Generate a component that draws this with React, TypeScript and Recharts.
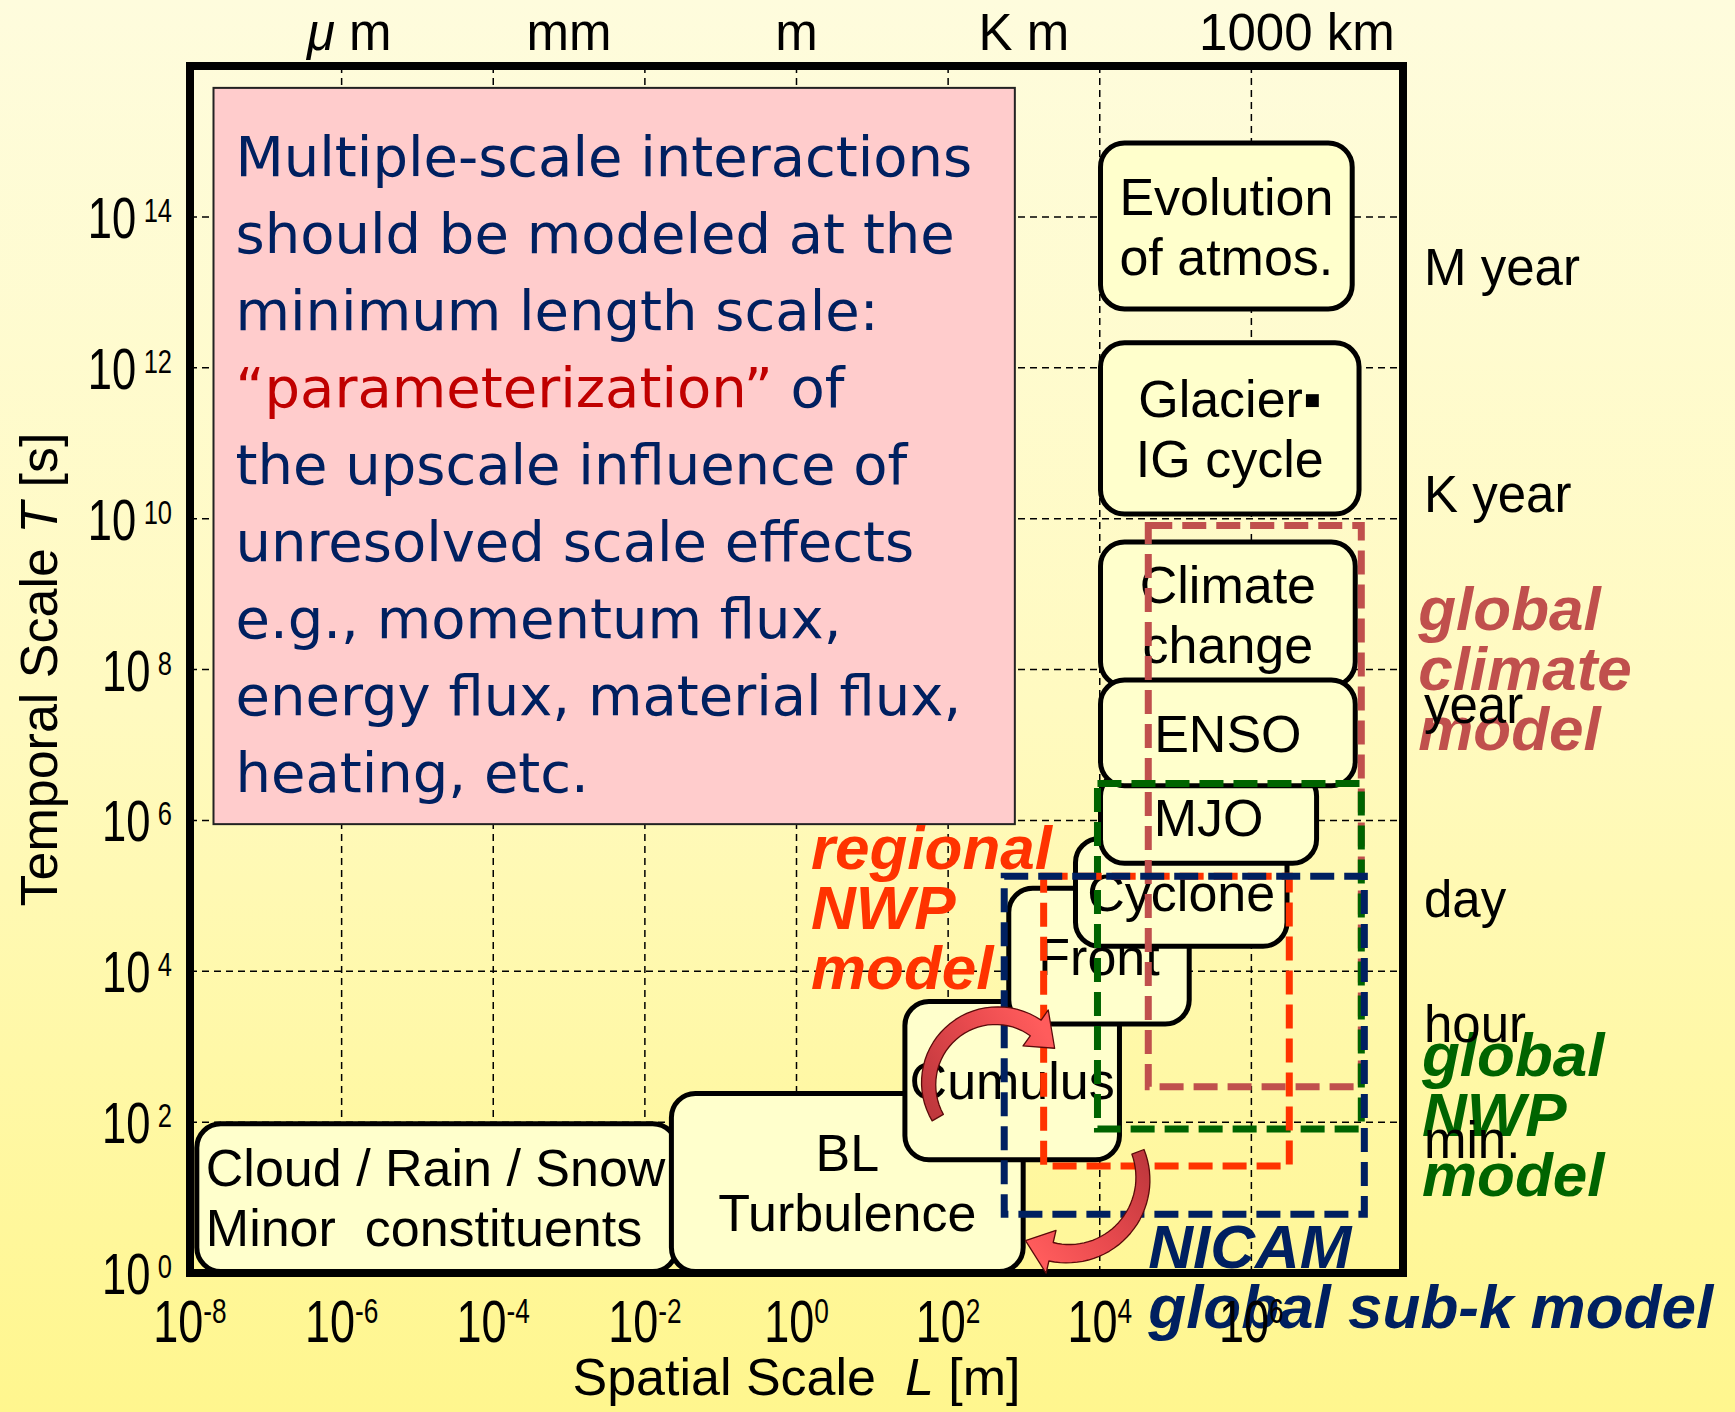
import React from "react";
import {
  ComposedChart,
  XAxis,
  YAxis,
  CartesianGrid,
  ReferenceArea,
  ReferenceDot,
  Scatter,
} from "recharts";

const W = 1735;
const H = 1412;
const FONT = "'Liberation Sans', Arial, sans-serif";
const NOTE_FONT = "'DejaVu Sans', Verdana, sans-serif";

// axes are log10 L [m] and log10 T [s]
const L_TICKS = [-8, -6, -4, -2, 0, 2, 4, 6];
const T_TICKS = [0, 2, 4, 6, 8, 10, 12, 14];
const LENGTH_NAMES = ["μ m", "mm", "m", "K m", "1000 km"];
const LENGTH_AT = [-5.9, -3, 0, 3, 6.6];
const TIME_NAMES = ["M year", "K year", "year", "day", "hour", "min."];
const TIME_AT = [13.33, 10.32, 7.53, 4.96, 3.3, 1.76];

// phenomena, back to front
const PHEN_LINES = [
  ["Cloud / Rain / Snow", "Minor  constituents"],
  ["BL", "Turbulence"],
  ["Cumulus"],
  ["Front"],
  ["Cyclone"],
  ["MJO"],
  ["Climate", "change"],
  ["ENSO"],
  ["Glacier▪", "IG cycle"],
  ["Evolution", "of atmos."],
];
const PHEN_L = [
  [-7.91, -1.58],
  [-1.65, 2.99],
  [1.43, 4.26],
  [2.8, 5.18],
  [3.68, 6.47],
  [4.01, 6.86],
  [4.01, 7.37],
  [4.01, 7.37],
  [4.01, 7.42],
  [4.01, 7.33],
];
const PHEN_T = [
  [0.02, 1.98],
  [0.02, 2.38],
  [1.5, 3.6],
  [3.3, 5.1],
  [4.33, 5.76],
  [5.43, 6.64],
  [7.78, 9.69],
  [6.46, 7.86],
  [10.06, 12.33],
  [12.78, 14.98],
];

// model coverage (dashed frames)
const MODEL_L = [
  [4.64, 7.45],
  [3.97, 7.45],
  [3.26, 6.5],
  [2.74, 7.49],
];
const MODEL_T = [
  [2.47, 9.91],
  [1.91, 6.49],
  [1.42, 5.26],
  [0.78, 5.26],
];
const MODEL_LABELS = [
  ["global", "climate", "model"],
  ["global", "NWP", "model"],
  ["regional", "NWP", "model"],
  ["NICAM", "global sub-k model"],
];
const MODEL_LABEL_AT = [
  [8.2, 8.52],
  [8.25, 2.61],
  [0.19, 5.36],
  [4.64, 0.07],
];
const MODEL_COLORS = ["#C0504D", "#006400", "#FF3300", "#002060"];

// note box
const NOTE_L = [-7.69, 2.88];
const NOTE_T = [5.95, 15.71];
const NOTE_TERM = "“parameterization”";
const NOTE_LINES = [
  "Multiple-scale interactions",
  "should be modeled at the",
  "minimum length scale:",
  "“parameterization” of",
  "the upscale influence of",
  "unresolved scale effects",
  "e.g., momentum flux,",
  "energy flux, material flux,",
  "heating, etc.",
];

// interaction arrows: arc centre (log L, log T), sweep in degrees
const ARROW_AT = [
  [2.64, 2.51],
  [3.58, 1.25],
];
const ARROW_SWEEP = [
  [150, 305],
  [-21, 103],
];
const ARROW_R = [68, 75];

const BOX_FONT = 52;
const BOX_LINE = 60;

function XTick(p: any) {
  return (
    <text
      transform={`translate(${p.x},${p.y}) scale(0.75,1)`}
      textAnchor="middle"
      fontSize={60}
      fontFamily={FONT}
      fill="#000"
    >
      10
      <tspan dy={-19} fontSize={35}>
        {String(p.payload.value)}
      </tspan>
    </text>
  );
}

function YTick(p: any) {
  return (
    <text
      transform={`translate(${p.x},${p.y + 21}) scale(0.75,1)`}
      textAnchor="end"
      fontSize={58}
      fontFamily={FONT}
      fill="#000"
    >
      10
      <tspan dx={10} dy={-16} fontSize={34}>
        {String(p.payload.value)}
      </tspan>
    </text>
  );
}

function TopTick(p: any) {
  const name = LENGTH_NAMES[LENGTH_AT.indexOf(p.payload.value)] ?? "";
  const mu = name.startsWith("μ");
  return (
    <text x={p.x} y={p.y} textAnchor="middle" fontSize={51} fontFamily={FONT} fill="#000" style={{ whiteSpace: "pre" }}>
      {mu ? (
        <>
          <tspan fontStyle="italic">μ</tspan>
          {name.slice(1)}
        </>
      ) : (
        name
      )}
    </text>
  );
}

function RightTick(p: any) {
  const name = TIME_NAMES[TIME_AT.indexOf(p.payload.value)] ?? "";
  return (
    <text x={p.x} y={p.y + 18} textAnchor="start" fontSize={51} fontFamily={FONT} fill="#000">
      {name}
    </text>
  );
}

function XTitle(p: any) {
  const vb = p.viewBox ?? { x: 190, y: 1273, width: 1213, height: 139 };
  return (
    <text
      x={vb.x + vb.width / 2}
      y={vb.y + 122}
      textAnchor="middle"
      fontSize={52}
      fontFamily={FONT}
      fill="#000"
      style={{ whiteSpace: "pre" }}
    >
      {"Spatial Scale  "}
      <tspan fontStyle="italic">L</tspan>
      {" [m]"}
    </text>
  );
}

function YTitle(p: any) {
  const vb = p.viewBox ?? { x: 0, y: 66, width: 190, height: 1207 };
  const cy = vb.y + vb.height / 2;
  return (
    <text
      transform={`translate(57,${cy}) rotate(-90)`}
      textAnchor="middle"
      fontSize={52}
      fontFamily={FONT}
      fill="#000"
    >
      {"Temporal Scale "}
      <tspan fontStyle="italic">T</tspan>
      {" [s]"}
    </text>
  );
}

function PhenShape(p: any) {
  const { x, y, width, height, lines, left } = p;
  const tx = left ? x + 9 : x + width / 2;
  const first = y + height / 2 - ((lines.length - 1) * BOX_LINE) / 2 + BOX_FONT * 0.36;
  return (
    <g>
      <rect x={x} y={y} width={width} height={height} rx={24} ry={24} fill="#FFFFCC" stroke="#000" strokeWidth={5} />
      <text
        textAnchor={left ? "start" : "middle"}
        fontSize={BOX_FONT}
        fontFamily={FONT}
        fill="#000"
        style={{ whiteSpace: "pre" }}
      >
        {lines.map((s: string, i: number) => (
          <tspan key={i} x={tx} y={first + i * BOX_LINE}>
            {s}
          </tspan>
        ))}
      </text>
    </g>
  );
}

function NoteShape(p: any) {
  const { x, y, width, height } = p;
  return (
    <g>
      <rect x={x} y={y} width={width} height={height} fill="#FFCCCC" stroke="#222" strokeWidth={2} />
      <text fontFamily={NOTE_FONT} fontSize={56} fill="#002060">
        {NOTE_LINES.map((s, i) => {
          const yy = y + 88 + i * 77;
          if (s.startsWith(NOTE_TERM)) {
            return (
              <tspan key={i} x={x + 22} y={yy}>
                <tspan fill="#C00000">{NOTE_TERM}</tspan>
                {s.slice(NOTE_TERM.length)}
              </tspan>
            );
          }
          return (
            <tspan key={i} x={x + 22} y={yy}>
              {s}
            </tspan>
          );
        })}
      </text>
    </g>
  );
}

function ModelLabel(p: any) {
  const { cx, cy, lines, color } = p;
  return (
    <text
      fontSize={62}
      fontWeight="bold"
      fontStyle="italic"
      fontFamily={FONT}
      fill={color}
    >
      {lines.map((s: string, i: number) => (
        <tspan key={i} x={cx} y={cy + i * 60}>
          {s}
        </tspan>
      ))}
    </text>
  );
}

function ArrowShape(p: any) {
  const { cx, cy, r, sweep, id } = p;
  const [a0, a1] = sweep;
  const rad = (d: number) => (d * Math.PI) / 180;
  const pt = (rr: number, a: number) => [rr * Math.cos(rad(a)), rr * Math.sin(rad(a))];
  const n = 32;
  const outer: number[][] = [];
  const inner: number[][] = [];
  for (let i = 0; i <= n; i++) {
    const t = i / n;
    const a = a0 + (a1 - a0) * t;
    const w = 13 + 6 * t;
    outer.push(pt(r + w / 2, a));
    inner.push(pt(r - w / 2, a));
  }
  const tipA = a1 + (28 / r) * (180 / Math.PI);
  const hw = 22;
  const ho = pt(r + hw, a1);
  const hi = pt(r - hw, a1);
  const tip = pt(r, tipA);
  const tail = pt(r, a0);
  const f = (q: number[]) => `${q[0].toFixed(1)},${q[1].toFixed(1)}`;
  const d =
    "M" +
    outer.map(f).join(" L") +
    ` L${f(ho)} L${f(tip)} L${f(hi)} L` +
    inner.slice().reverse().map(f).join(" L") +
    " Z";
  return (
    <g transform={`translate(${cx},${cy})`}>
      <defs>
        <linearGradient id={id} gradientUnits="userSpaceOnUse" x1={tail[0]} y1={tail[1]} x2={tip[0]} y2={tip[1]}>
          <stop offset="0%" stopColor="#C0383D" />
          <stop offset="55%" stopColor="#E84A4E" />
          <stop offset="100%" stopColor="#FF5C5C" />
        </linearGradient>
      </defs>
      <path d={d} fill={`url(#${id})`} stroke="#5A0A0A" strokeWidth={1.3} strokeLinejoin="round" />
    </g>
  );
}

export default function App() {
  const centers = PHEN_L.map((l, i) => ({
    x: (l[0] + l[1]) / 2,
    y: (PHEN_T[i][0] + PHEN_T[i][1]) / 2,
  }));

  return (
    <div
      style={{
        position: "absolute",
        left: 0,
        top: 0,
        width: W,
        height: H,
        background: "linear-gradient(180deg, #FEFCDD 0%, #FFFAC0 50%, #FFF68E 100%)",
        fontFamily: FONT,
      }}
    >
      <ComposedChart width={W} height={H} data={centers} margin={{ top: 0, right: 0, bottom: 0, left: 0 }}>
        <XAxis
          type="number"
          dataKey="x"
          domain={[-8, 8]}
          ticks={L_TICKS}
          interval={0}
          height={139}
          axisLine={false}
          tickLine={false}
          tickSize={0}
          tickMargin={69}
          tick={(p: any) => <XTick {...p} />}
          label={{ content: (p: any) => <XTitle {...p} /> }}
        />
        <XAxis
          xAxisId="top"
          orientation="top"
          type="number"
          dataKey="x"
          domain={[-8, 8]}
          ticks={LENGTH_AT}
          interval={0}
          height={66}
          axisLine={false}
          tickLine={false}
          tickSize={0}
          tickMargin={16}
          tick={(p: any) => <TopTick {...p} />}
        />
        <YAxis
          type="number"
          dataKey="y"
          domain={[0, 16]}
          ticks={T_TICKS}
          interval={0}
          width={190}
          axisLine={false}
          tickLine={false}
          tickSize={0}
          tickMargin={18}
          tick={(p: any) => <YTick {...p} />}
          label={{ content: (p: any) => <YTitle {...p} /> }}
        />
        <YAxis
          yAxisId="right"
          orientation="right"
          type="number"
          dataKey="y"
          domain={[0, 16]}
          ticks={TIME_AT}
          interval={0}
          width={332}
          axisLine={false}
          tickLine={false}
          tickSize={0}
          tickMargin={21}
          tick={(p: any) => <RightTick {...p} />}
        />
        <CartesianGrid stroke="#000" strokeWidth={1.5} strokeDasharray="7 5" />
        <Scatter dataKey="y" isAnimationActive={false} shape={() => <g />} legendType="none" />
        <Scatter
          xAxisId="top"
          yAxisId="right"
          dataKey="y"
          isAnimationActive={false}
          shape={() => <g />}
          legendType="none"
        />

        <ReferenceArea
          x1={NOTE_L[0]}
          x2={NOTE_L[1]}
          y1={NOTE_T[0]}
          y2={NOTE_T[1]}
          ifOverflow="visible"
          shape={(p: any) => <NoteShape {...p} />}
        />

        {PHEN_LINES.map((lines, i) => (
          <ReferenceArea
            key={"p" + i}
            x1={PHEN_L[i][0]}
            x2={PHEN_L[i][1]}
            y1={PHEN_T[i][0]}
            y2={PHEN_T[i][1]}
            ifOverflow="visible"
            shape={(p: any) => <PhenShape {...p} lines={lines} left={i === 0} />}
          />
        ))}

        {ARROW_AT.map((a, i) => (
          <ReferenceDot
            key={"a" + i}
            x={a[0]}
            y={a[1]}
            r={1}
            ifOverflow="visible"
            shape={(p: any) => <ArrowShape {...p} r={ARROW_R[i]} sweep={ARROW_SWEEP[i]} id={"arrowGrad" + i} />}
          />
        ))}

        {MODEL_L.map((l, i) => (
          <ReferenceArea
            key={"m" + i}
            x1={l[0]}
            x2={l[1]}
            y1={MODEL_T[i][0]}
            y2={MODEL_T[i][1]}
            ifOverflow="visible"
            shape={(p: any) => (
              <rect
                x={p.x}
                y={p.y}
                width={p.width}
                height={p.height}
                fill="none"
                stroke={MODEL_COLORS[i]}
                strokeWidth={7}
                strokeDasharray="24 10"
              />
            )}
          />
        ))}

        {MODEL_LABELS.map((lines, i) => (
          <ReferenceDot
            key={"ml" + i}
            x={MODEL_LABEL_AT[i][0]}
            y={MODEL_LABEL_AT[i][1]}
            r={1}
            ifOverflow="visible"
            shape={(p: any) => <ModelLabel {...p} lines={lines} color={MODEL_COLORS[i]} />}
          />
        ))}

        <ReferenceArea
          x1={-8}
          x2={8}
          y1={0}
          y2={16}
          ifOverflow="visible"
          shape={(p: any) => (
            <rect x={p.x} y={p.y} width={p.width} height={p.height} fill="none" stroke="#000" strokeWidth={8} />
          )}
        />
      </ComposedChart>
    </div>
  );
}
